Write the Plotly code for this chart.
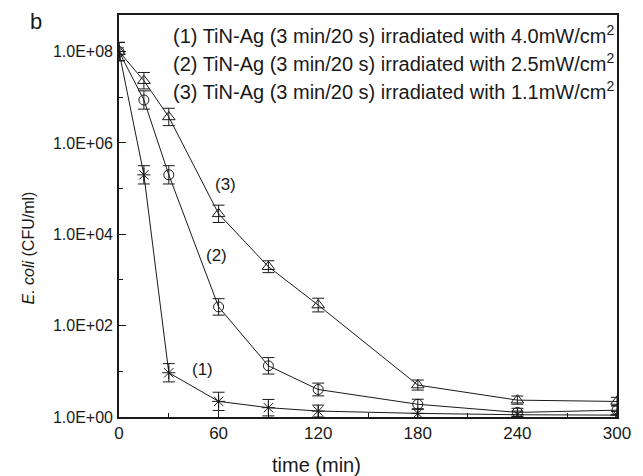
import math
import plotly.graph_objects as go

# ---- data ----
time_min = [0, 15, 30, 60, 90, 120, 180, 240, 300]

# E. coli counts (CFU/ml)
s1_vals = [1.0e8, 2.0e5, 9.3, 2.2, 1.6, 1.35, 1.2, 1.12, 1.1]      # (1) 4.0 mW/cm2
s2_vals = [1.0e8, 8.7e6, 2.0e5, 257, 13.2, 4.0, 1.9, 1.26, 1.41]  # (2) 2.5 mW/cm2
s3_vals = [1.0e8, 2.3e7, 3.7e6, 2.8e4, 1950, 282, 5.0, 2.34, 2.19]  # (3) 1.1 mW/cm2

# error half-widths, in decades
s1_err = [0.2, 0.2, 0.2, 0.2, 0.18, 0.13, 0.1, 0.08, 0.08]
s2_err = [0.2, 0.2, 0.2, 0.18, 0.18, 0.14, 0.11, 0.09, 0.09]
s3_err = [0.2, 0.18, 0.19, 0.19, 0.13, 0.15, 0.11, 0.09, 0.09]

legend_lines = [
    "(1) TiN-Ag (3 min/20 s) irradiated with 4.0mW/cm<sup>2</sup>",
    "(2) TiN-Ag (3 min/20 s) irradiated with 2.5mW/cm<sup>2</sup>",
    "(3) TiN-Ag (3 min/20 s) irradiated with 1.1mW/cm<sup>2</sup>",
]
curve_labels = ["(1)", "(2)", "(3)"]
curve_label_pos = [(50, 10.7), (59, 3.5e3), (64, 1.25e5)]

y_tickvals = [1, 1e2, 1e4, 1e6, 1e8]
y_ticktext = ["1.0E+00", "1.0E+02", "1.0E+04", "1.0E+06", "1.0E+08"]
y_minor = [10, 1e3, 1e5, 1e7]
x_tickvals = [0, 60, 120, 180, 240, 300]
x_minor = [30, 90, 150, 210, 270]

FONT = "Arial, Liberation Sans, sans-serif"
INK = "#1a1a1a"


def err_arrays(vals, errs):
    up = [v * (10 ** e - 1) for v, e in zip(vals, errs)]
    dn = [v * (1 - 10 ** (-e)) for v, e in zip(vals, errs)]
    return up, dn


fig = go.Figure()
series = [
    (s1_vals, s1_err, "asterisk-open", 11),
    (s2_vals, s2_err, "circle-open", 10),
    (s3_vals, s3_err, "triangle-up-open", 11),
]
for vals, errs, sym, size in series:
    up, dn = err_arrays(vals, errs)
    fig.add_trace(go.Scatter(
        x=time_min, y=vals, mode="lines+markers",
        line=dict(color=INK, width=1),
        marker=dict(symbol=sym, size=size, color=INK, line=dict(color=INK, width=1)),
        error_y=dict(type="data", symmetric=False, array=up, arrayminus=dn,
                     color=INK, thickness=1, width=6),
        showlegend=False,
    ))

annotations = []
for i, txt in enumerate(legend_lines):
    annotations.append(dict(
        text=txt, xref="paper", yref="paper", x=0.105, y=0.952 - i * 0.07,
        xanchor="left", yanchor="middle", showarrow=False,
        font=dict(family=FONT, size=20, color=INK)))
for txt, (tx, ty) in zip(curve_labels, curve_label_pos):
    annotations.append(dict(
        text=txt, x=tx, y=math.log10(ty), xref="x", yref="y",
        xanchor="center", yanchor="middle",
        showarrow=False, font=dict(family=FONT, size=17, color=INK)))
annotations.append(dict(text="b", xref="paper", yref="paper", x=-0.166, y=0.985,
                        xanchor="center", yanchor="middle",
                        showarrow=False, font=dict(family=FONT, size=22, color=INK)))
annotations.append(dict(text="<i>E. coli</i> (CFU/ml)", xref="paper", yref="paper",
                        x=-0.182, y=0.42, textangle=-90, showarrow=False,
                        xanchor="center", yanchor="middle",
                        font=dict(family=FONT, size=16, color=INK)))
annotations.append(dict(text="time (min)", xref="paper", yref="paper",
                        x=0.397, y=-0.119, showarrow=False,
                        xanchor="center", yanchor="middle",
                        font=dict(family=FONT, size=20, color=INK)))

fig.update_layout(
    width=643, height=476,
    margin=dict(l=119, r=18, t=15, b=59),
    paper_bgcolor="white", plot_bgcolor="white",
    font=dict(family=FONT, color=INK),
    annotations=annotations,
)
fig.update_xaxes(
    range=[0, 300], tickvals=x_tickvals, ticks="inside", ticklen=7, tickwidth=1.2,
    tickcolor=INK, showline=True, linecolor=INK, linewidth=1.6, mirror=True,
    showgrid=False, zeroline=False, tickfont=dict(size=17, family=FONT),
    minor=dict(tickvals=x_minor, ticks="inside", ticklen=4, tickcolor=INK, showgrid=False),
)
fig.update_yaxes(
    type="log", range=[0, 8.8], tickvals=y_tickvals, ticktext=y_ticktext,
    ticks="inside", ticklen=7, tickwidth=1.2, tickcolor=INK,
    showline=True, linecolor=INK, linewidth=1.6, mirror=True,
    showgrid=False, zeroline=False, tickfont=dict(size=16, family=FONT),
    ticklabelstandoff=1,
    minor=dict(tickvals=y_minor, ticks="inside", ticklen=4, tickcolor=INK, showgrid=False),
)

fig.write_html("out.html")
